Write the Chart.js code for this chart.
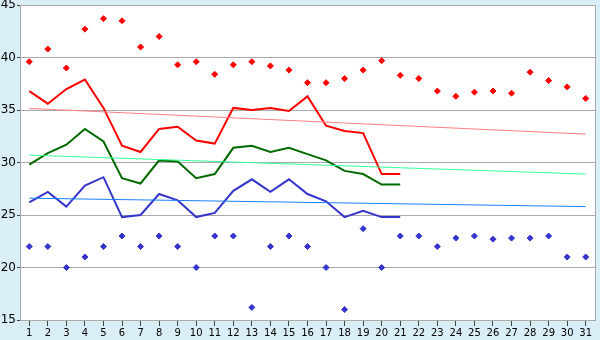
<!DOCTYPE html>
<html>
<head>
<meta charset="utf-8">
<script src="https://cdn.jsdelivr.net/npm/chart.js@4/dist/chart.umd.min.js"></script>
<style>
  html, body { margin: 0; padding: 0; background: #d9eef6; }
  canvas { display: block; }
</style>
</head>
<body>
<canvas id="grafico" width="600" height="340"></canvas>
<script>
var dias = ['1', '2', '3', '4', '5', '6', '7', '8', '9', '10', '11', '12', '13', '14', '15', '16',
    '17', '18', '19', '20', '21', '22', '23', '24', '25', '26', '27', '28', '29', '30', '31'];

var maximas = [39.6, 40.8, 39.0, 42.7, 43.7, 43.5, 41.0, 42.0, 39.3, 39.6, 38.4, 39.3, 39.6, 39.2, 38.8, 37.6,
    37.6, 38.0, 38.8, 39.7, 38.3, 38.0, 36.8, 36.3, 36.7, 36.8, 36.6, 38.6, 37.8, 37.2, 36.1];
var minimas = [22, 22, 20, 21, 22, 23, 22, 23, 22, 20, 23, 23, 16.2, 22, 23, 22,
    20, 16, 23.7, 20, 23, 23, 22, 22.8, 23, 22.7, 22.8, 22.8, 23, 21, 21];

var linhaVermelha = [36.8, 35.6, 37.0, 37.9, 35.2, 31.6, 31.0, 33.2, 33.4, 32.1, 31.8, 35.2, 35.0, 35.2, 34.9, 36.3,
    33.5, 33.0, 32.8, 28.9, 28.9];
var linhaVerde = [29.8, 30.9, 31.7, 33.2, 32.0, 28.5, 28.0, 30.2, 30.1, 28.5, 28.9, 31.4, 31.6, 31.0, 31.4, 30.8,
    30.2, 29.2, 28.9, 27.9, 27.9];
var linhaAzul = [26.2, 27.2, 25.8, 27.8, 28.6, 24.8, 25.0, 27.0, 26.4, 24.8, 25.2, 27.3, 28.4, 27.2, 28.4, 27.0,
    26.3, 24.8, 25.4, 24.8, 24.8];

// tendencias: valor no dia 1 e no dia 31
var tendVermelha = [35.15, 32.7];
var tendVerde = [30.7, 28.9];
var tendAzul = [26.6, 25.8];

function tendencia(v) {
    return [{ x: dias[0], y: v[0] }, { x: dias[dias.length - 1], y: v[1] }];
}

function linha(dados, cor, largura) {
    return {
        data: dados,
        borderColor: cor,
        backgroundColor: cor,
        borderWidth: largura,
        pointRadius: 0,
        tension: 0,
        fill: false
    };
}

function pontos(dados, cor) {
    return {
        data: dados,
        showLine: false,
        borderColor: cor,
        backgroundColor: cor,
        pointStyle: 'rectRot',
        pointRadius: 3,
        pointBorderWidth: 1
    };
}

var fundoArea = {
    id: 'fundoArea',
    beforeDraw: function(chart) {
        var a = chart.chartArea;
        var ctx = chart.ctx;
        ctx.save();
        ctx.fillStyle = '#ffffff';
        ctx.fillRect(a.left, a.top, a.right - a.left, a.bottom - a.top);
        ctx.restore();
    },
    afterDraw: function(chart) {
        var a = chart.chartArea;
        var ctx = chart.ctx;
        ctx.save();
        ctx.strokeStyle = '#a8a8a8';
        ctx.lineWidth = 1;
        ctx.strokeRect(Math.round(a.left) + 0.5, Math.round(a.top) + 0.5,
            Math.round(a.right - a.left), Math.round(a.bottom - a.top));
        ctx.restore();
    }
};

var grafico = new Chart(document.getElementById('grafico').getContext('2d'), {
    type: 'line',
    data: {
        labels: dias,
        datasets: [
            linha(tendencia(tendVermelha), '#ff8080', 1),
            linha(tendencia(tendVerde), '#33ff99', 1),
            linha(tendencia(tendAzul), '#1a80ff', 1),
            linha(linhaVermelha, '#ff0000', 2),
            linha(linhaVerde, '#006a00', 2),
            linha(linhaAzul, '#3535cc', 2),
            pontos(maximas, '#ff0000'),
            pontos(minimas, '#3535cc')
        ]
    },
    options: {
        responsive: false,
        animation: false,
        layout: { padding: { top: 5, right: 5, left: 0, bottom: 0 } },
        plugins: {
            legend: { display: false },
            tooltip: { enabled: false }
        },
        scales: {
            x: {
                offset: true,
                grid: {
                    drawOnChartArea: false,
                    tickLength: 6,
                    tickColor: '#444444'
                },
                border: { display: false },
                ticks: {
                    color: '#000000',
                    padding: 1,
                    maxRotation: 0,
                    autoSkip: false,
                    font: { family: 'DejaVu Sans', size: 10 }
                },
                afterFit: function(escala) {
                    escala.height = 20;
                    escala.paddingLeft = 0;
                    escala.paddingRight = 0;
                }
            },
            y: {
                min: 15,
                max: 45,
                grid: {
                    color: '#aaaaaa',
                    tickLength: 3,
                    tickColor: '#444444'
                },
                border: { display: false },
                ticks: {
                    stepSize: 5,
                    color: '#000000',
                    padding: 1,
                    font: { family: 'DejaVu Sans', size: 12 }
                },
                afterFit: function(escala) {
                    escala.width = 20;
                    escala.paddingTop = 0;
                    escala.paddingBottom = 0;
                }
            }
        }
    },
    plugins: [fundoArea]
});
</script>
</body>
</html>
